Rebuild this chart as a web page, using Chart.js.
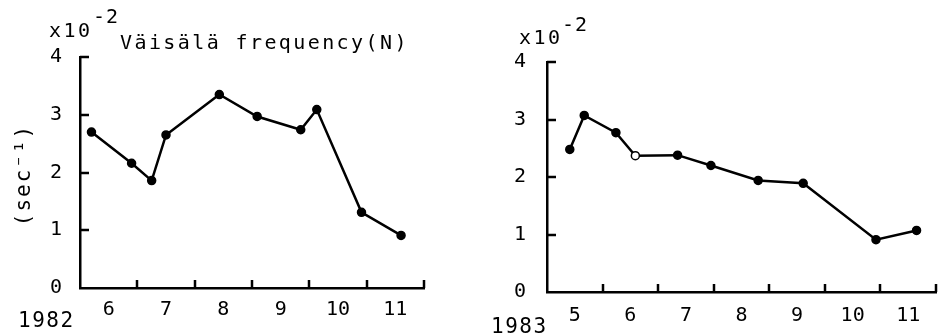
<!DOCTYPE html>
<html>
<head>
<meta charset="utf-8">
<script src="https://cdn.jsdelivr.net/npm/chart.js@4.4.1/dist/chart.umd.min.js"></script>
<style>
  html, body { margin: 0; padding: 0; background: #fff; overflow: hidden; }
  #wrap { position: relative; width: 948px; height: 335px; }
  .box { position: absolute; top: 0; width: 474px; height: 335px; }
</style>
</head>
<body>
<div id="wrap">
  <div class="box" style="left:0"><canvas id="c1982"></canvas></div>
  <div class="box" style="left:474px"><canvas id="c1983"></canvas></div>
</div>
<script>
// month labels under each panel (label sits in the middle of its month)
const months1982 = ["6", "7", "8", "9", "10", "11"];
const months1983 = ["5", "6", "7", "8", "9", "10", "11"];

// observation dates as fractional month (6.5 = mid June)
const dates1982 = [6.20, 6.90, 7.25, 7.50, 8.43, 9.09, 9.85, 10.13, 10.91, 11.60];
const freq1982  = [2.70, 2.16, 1.86, 2.65, 3.35, 2.97, 2.74, 3.09, 1.31, 0.91];

const dates1983 = [5.41, 5.67, 6.24, 6.59, 7.35, 7.95, 8.80, 9.61, 10.92, 11.65];
const freq1983  = [2.48, 3.07, 2.77, 2.37, 2.38, 2.20, 1.94, 1.89, 0.91, 1.07];
const open1983  = [false, false, false, true, false, false, false, false, false, false];

const freqTicks = [0, 1, 2, 3, 4];

const MONO = "'DejaVu Sans Mono', 'Liberation Mono', monospace";

// inward tick marks + free text (title, exponent, unit, year)
const notesPlugin = {
  id: "notes",
  afterDraw(chart, args, opts) {
    const ctx = chart.ctx;
    const a = chart.chartArea;
    const xs = chart.scales.x, ys = chart.scales.y;
    ctx.save();
    ctx.strokeStyle = "#000";
    ctx.lineWidth = 2.5;
    ctx.beginPath();
    freqTicks.forEach(v => {
      if (v === 0) return;
      const y = Math.round(ys.getPixelForValue(v));
      ctx.moveTo(a.left, y);
      ctx.lineTo(a.left + 9, y);
    });
    for (let m = xs.min + 1; m <= xs.max; m++) {
      const x = Math.round(xs.getPixelForValue(m));
      ctx.moveTo(x, a.bottom);
      ctx.lineTo(x, a.bottom - 8);
    }
    ctx.stroke();

    ctx.fillStyle = "#000";
    ctx.textBaseline = "alphabetic";
    (opts.texts || []).forEach(t => {
      ctx.save();
      ctx.font = t.font;
      ctx.letterSpacing = (t.spacing || 0) + "px";
      ctx.textAlign = t.align || "left";
      ctx.translate(t.x, t.y);
      if (t.rotate) ctx.rotate(t.rotate);
      ctx.fillText(t.text, 0, 0);
      ctx.restore();
    });
    ctx.restore();
  }
};

function makeChart(id, months, dates, freq, openFlags, box, texts) {
  const first = Number(months[0]);
  const data = dates.map((d, i) => ({ x: d, y: freq[i] }));
  return new Chart(document.getElementById(id), {
    type: "scatter",
    data: {
      datasets: [{
        data: data,
        showLine: true,
        borderColor: "#000",
        borderWidth: 2.5,
        pointRadius: 4,
        pointHoverRadius: 4,
        pointBorderColor: "#000",
        pointBorderWidth: 1.5,
        pointBackgroundColor: openFlags.map(o => o ? "#fff" : "#000"),
        tension: 0
      }]
    },
    options: {
      responsive: true,
      maintainAspectRatio: false,
      animation: false,
      events: [],
      layout: { padding: { left: 0, right: box.right, top: box.top, bottom: 0 } },
      plugins: {
        legend: { display: false },
        tooltip: { enabled: false },
        notes: { texts: texts }
      },
      scales: {
        x: {
          type: "linear",
          min: first,
          max: first + months.length,
          afterFit: s => { s.height = box.xHeight; },
          grid: { display: false, drawTicks: false },
          border: { display: true, color: "#000", width: 2.5 },
          ticks: {
            stepSize: 0.5,
            autoSkip: false,
            maxRotation: 0,
            padding: box.xPad,
            color: "#000",
            font: { family: MONO, size: 20 },
            callback: v => {
              const k = v - first - 0.5;
              return Number.isInteger(k) ? months[k] : "";
            }
          }
        },
        y: {
          min: 0,
          max: 4,
          afterFit: s => { s.width = box.yWidth; },
          grid: { display: false, drawTicks: false },
          border: { display: true, color: "#000", width: 2.5 },
          ticks: {
            stepSize: 1,
            padding: box.yPad,
            color: "#000",
            font: { family: MONO, size: 20 }
          }
        }
      }
    },
    plugins: [notesPlugin]
  });
}

makeChart("c1982", months1982, dates1982, freq1982, dates1982.map(() => false),
  { right: 50, top: 57, xHeight: 47, yWidth: 80, yPad: 18, xPad: 10 },
  [
    { text: "x10", x: 49, y: 37, font: "20px " + MONO, spacing: 2.5 },
    { text: "-2", x: 93, y: 23, font: "20px " + MONO, spacing: 1 },
    { text: "Väisälä frequency(N)", x: 120, y: 49, font: "20px " + MONO, spacing: 2.4 },
    { text: "(sec⁻¹)", x: 30, y: 175, font: "21px " + MONO, spacing: 2, align: "center", rotate: -Math.PI / 2 },
    { text: "1982", x: 18, y: 327, font: "21px " + MONO, spacing: 1.5 }
  ]);

makeChart("c1983", months1983, dates1983, freq1983, open1983,
  { right: 1, top: 62, xHeight: 43, yWidth: 73, yPad: 21, xPad: 12 },
  [
    { text: "x10", x: 45, y: 44, font: "20px " + MONO, spacing: 2.5 },
    { text: "-2", x: 88, y: 31, font: "20px " + MONO, spacing: 1 },
    { text: "1983", x: 17, y: 333, font: "21px " + MONO, spacing: 1.5 }
  ]);
</script>
</body>
</html>
